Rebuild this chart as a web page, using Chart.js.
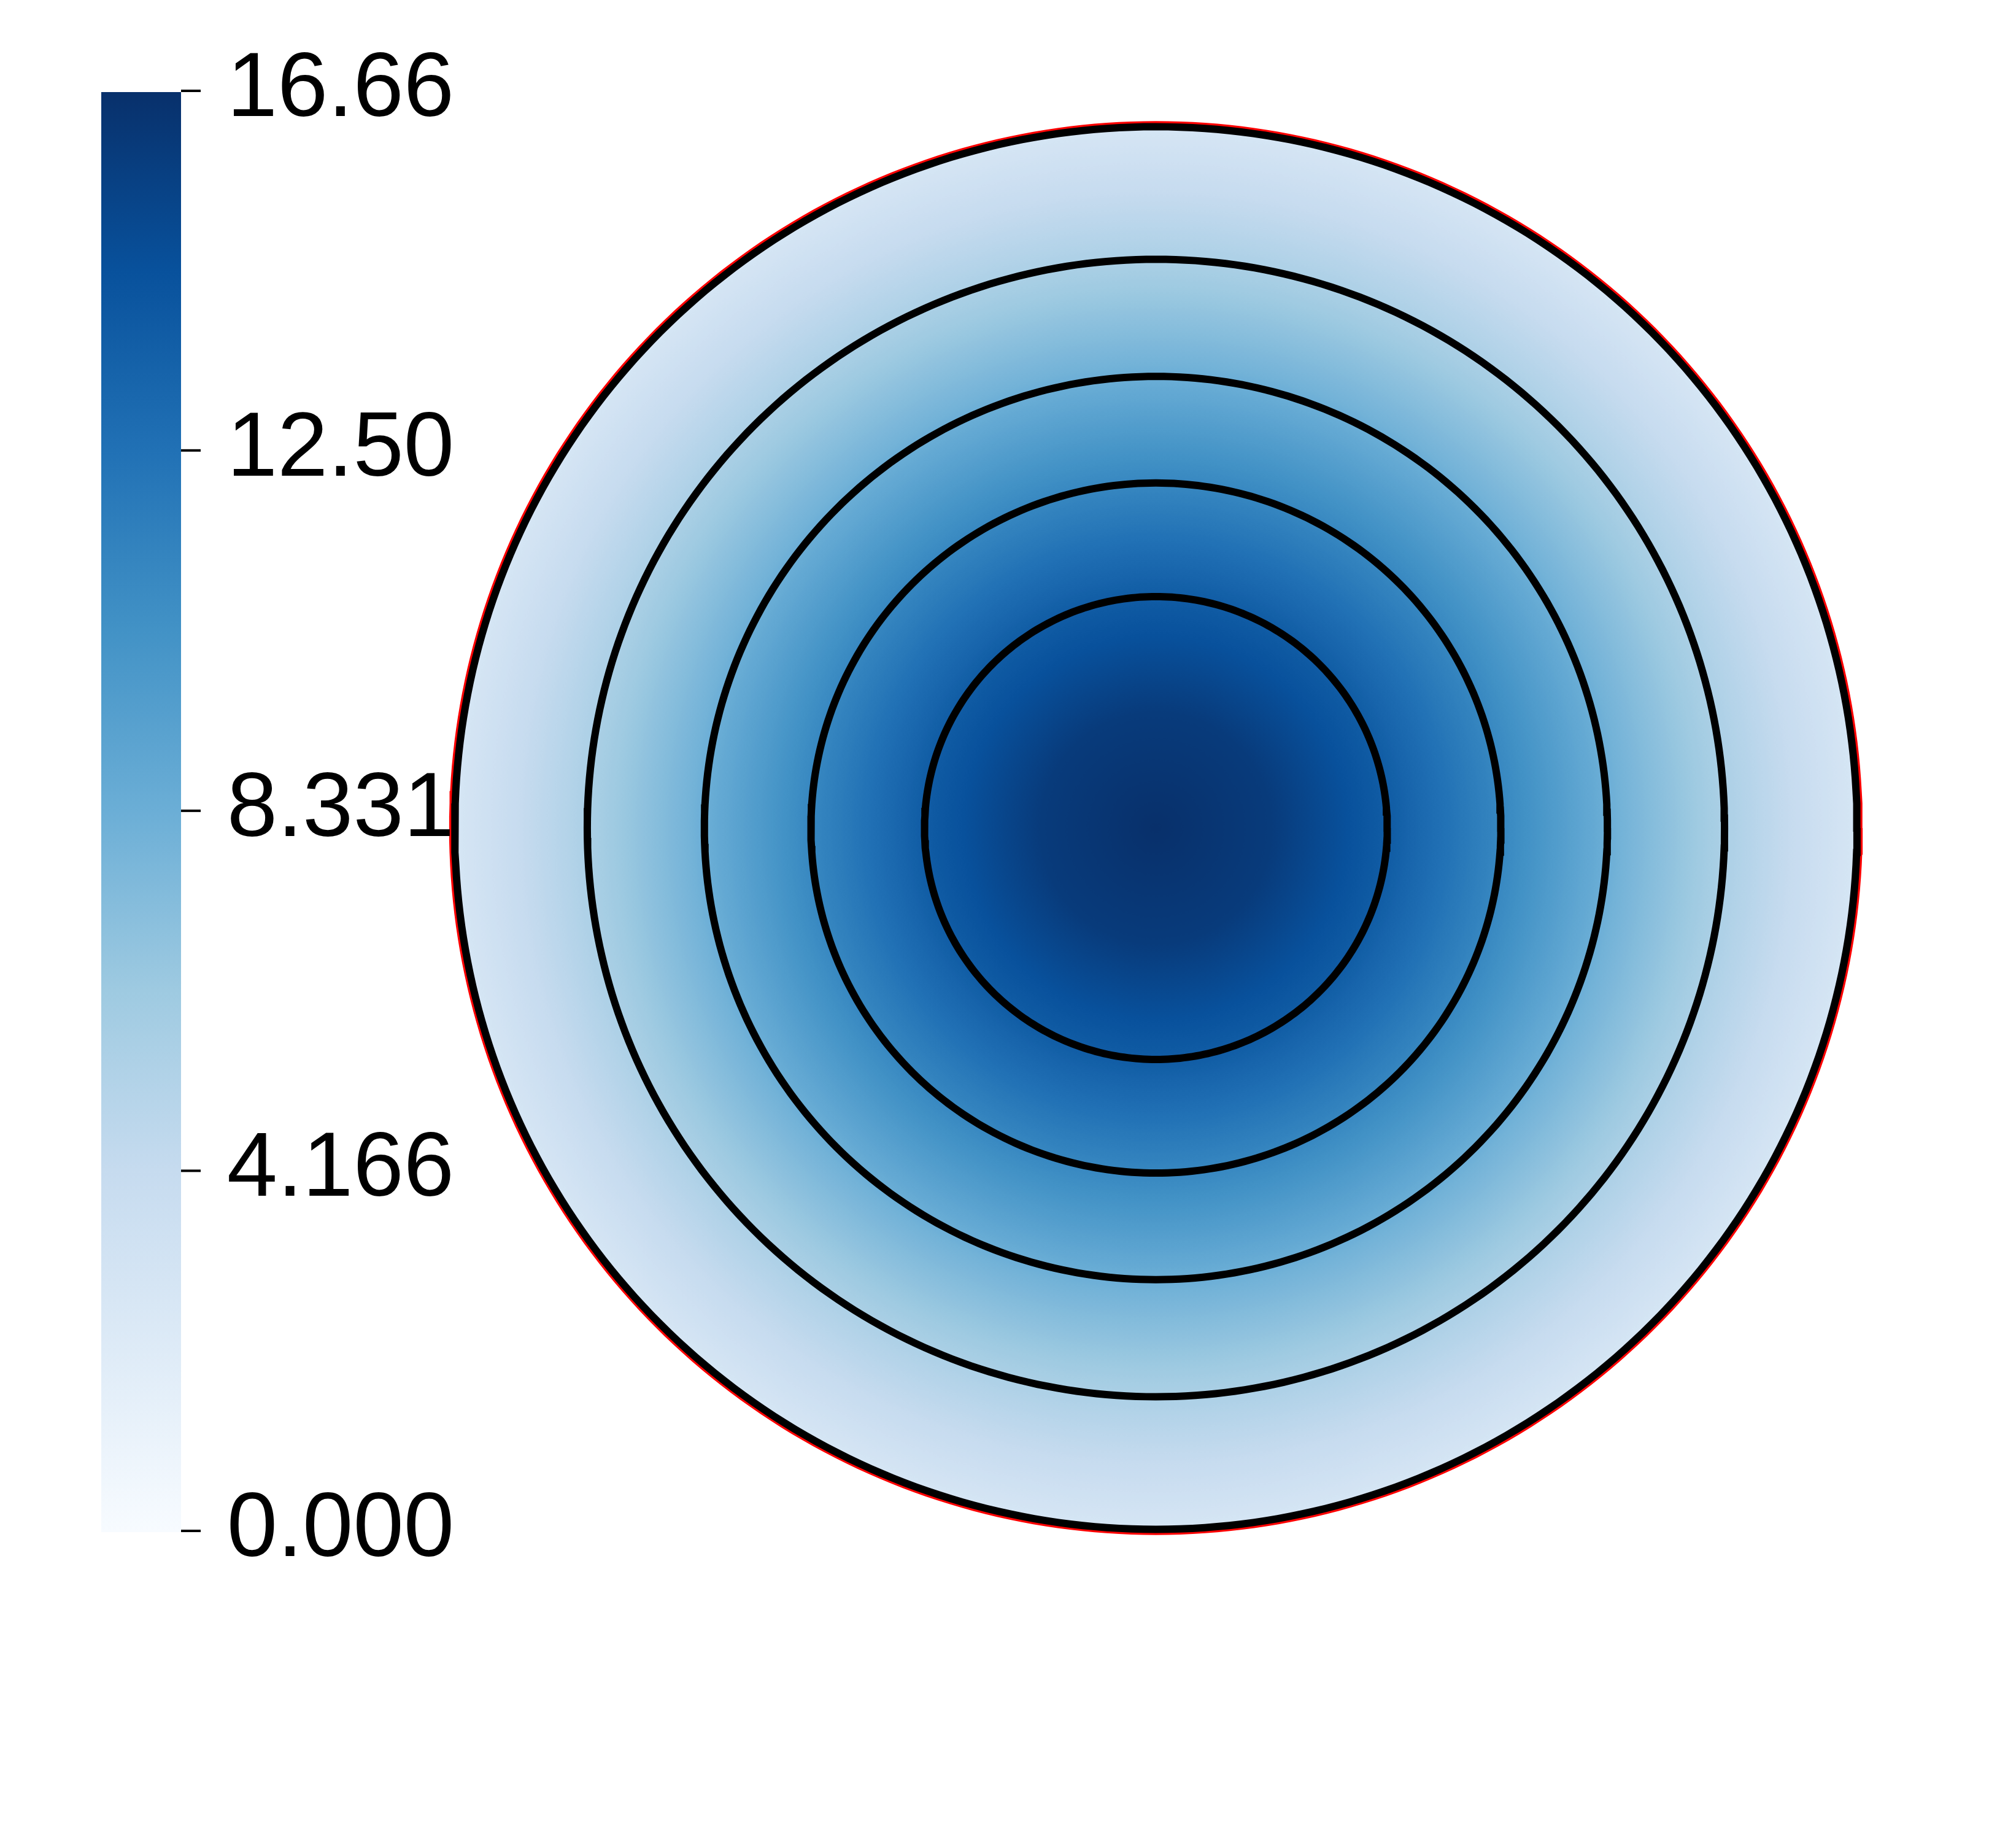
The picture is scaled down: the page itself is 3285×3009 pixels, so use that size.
<!DOCTYPE html>
<html>
<head>
<meta charset="utf-8">
<script src="https://cdn.jsdelivr.net/npm/chart.js@4/dist/chart.umd.min.js"></script>
<style>
  body { margin: 0; background: #fff; }
  canvas { display: block; }
</style>
</head>
<body>
<canvas id="chart" width="3285" height="3009"></canvas>
<script>
// colorbar
const cbTicks = [0, 4.166, 8.331, 12.50, 16.66];
const cbLabels = ["0.000", "4.166", "8.331", "12.50", "16.66"];
const fieldMin = 0;
const fieldMax = 16.66;

// Blues colormap
const blues = ["#f7fbff", "#deebf7", "#c6dbef", "#9ecae1", "#6baed6", "#4292c6", "#2171b5", "#08519c", "#08306b"];

// radial profile (r / R, value)
const profileR = [0, 0.165, 0.330, 0.492, 0.644, 0.811, 1.0];
const profileF = [16.66, 15.97, 13.88, 11.11, 8.33, 5.55, 2.78];

// contour circles (r / R) and the boundary
const contourRadii = [0.330, 0.492, 0.644, 0.811, 1.0];
const boundaryRadius = 1.005;

function hexRgb(h) {
  return [parseInt(h.slice(1, 3), 16), parseInt(h.slice(3, 5), 16), parseInt(h.slice(5, 7), 16)];
}
const bluesRgb = blues.map(hexRgb);

function blueAt(v) {
  let t = (v - fieldMin) / (fieldMax - fieldMin);
  t = Math.max(0, Math.min(1, t)) * (bluesRgb.length - 1);
  const i = Math.min(Math.floor(t), bluesRgb.length - 2);
  const f = t - i;
  const a = bluesRgb[i], b = bluesRgb[i + 1];
  return `rgb(${Math.round(a[0] + (b[0] - a[0]) * f)},${Math.round(a[1] + (b[1] - a[1]) * f)},${Math.round(a[2] + (b[2] - a[2]) * f)})`;
}

function profileAt(r) {
  for (let i = 0; i < profileR.length - 1; i++) {
    if (r <= profileR[i + 1]) {
      const f = (r - profileR[i]) / (profileR[i + 1] - profileR[i]);
      return profileF[i] + (profileF[i + 1] - profileF[i]) * f;
    }
  }
  return profileF[profileF.length - 1];
}

function circle(r) {
  const pts = [];
  for (let a = 0; a <= 360; a++) {
    const t = a * Math.PI / 180;
    pts.push({ x: r * Math.cos(t), y: r * Math.sin(t) });
  }
  return pts;
}

const datasets = contourRadii.map((r) => ({
  data: circle(r),
  showLine: true,
  borderColor: "#000",
  borderWidth: 12,
  pointRadius: 0,
  tension: 0,
  order: 0,
}));
datasets.push({
  data: circle(boundaryRadius),
  showLine: true,
  borderColor: "#ff0000",
  borderWidth: 7,
  pointRadius: 0,
  tension: 0,
  order: 1,
});

const diskFill = {
  id: "diskFill",
  beforeDatasetsDraw(chart) {
    const { ctx, scales } = chart;
    const cx = scales.x.getPixelForValue(0);
    const cy = scales.y.getPixelForValue(0);
    const R = scales.x.getPixelForValue(1) - cx;
    const g = ctx.createRadialGradient(cx, cy, 0, cx, cy, R);
    for (let i = 0; i <= 200; i++) {
      const r = i / 200;
      g.addColorStop(r, blueAt(profileAt(r)));
    }
    ctx.save();
    ctx.fillStyle = g;
    ctx.beginPath();
    ctx.arc(cx, cy, R, 0, Math.PI * 2);
    ctx.fill();
    ctx.restore();
  },
};

const colorBar = {
  id: "colorBar",
  afterDraw(chart) {
    const { ctx } = chart;
    const cb = chart.scales.cb;
    const top = cb.getPixelForValue(fieldMax);
    const bot = cb.getPixelForValue(fieldMin);
    const barLeft = 165, barRight = 295;
    ctx.save();
    const g = ctx.createLinearGradient(0, bot, 0, top);
    blues.forEach((c, i) => g.addColorStop(i / (blues.length - 1), c));
    ctx.fillStyle = g;
    ctx.fillRect(barLeft, top + 2, barRight - barLeft, bot - top);

    ctx.fillStyle = "#000";
    ctx.font = '148px "Liberation Sans", Arial, sans-serif';
    ctx.textAlign = "right";
    ctx.textBaseline = "alphabetic";
    cbTicks.forEach((v, i) => {
      const yy = cb.getPixelForValue(v);
      ctx.fillRect(barRight, yy - 2, 32, 4);
      ctx.fillText(cbLabels[i], 740, yy + 41);
    });
    ctx.restore();
  },
};

new Chart(document.getElementById("chart"), {
  type: "scatter",
  data: { datasets },
  options: {
    responsive: false,
    animation: false,
    devicePixelRatio: 1,
    layout: { padding: 0 },
    plugins: {
      legend: { display: false },
      tooltip: { enabled: false },
    },
    scales: {
      x: { type: "linear", display: false, min: -1.6486, max: 1.2267 },
      y: { type: "linear", display: false, min: -1.4530, max: 1.1807 },
      cb: { type: "linear", axis: "y", position: "left", display: false, min: -3.657, max: 17.711 },
    },
  },
  plugins: [diskFill, colorBar],
});
</script>
</body>
</html>
